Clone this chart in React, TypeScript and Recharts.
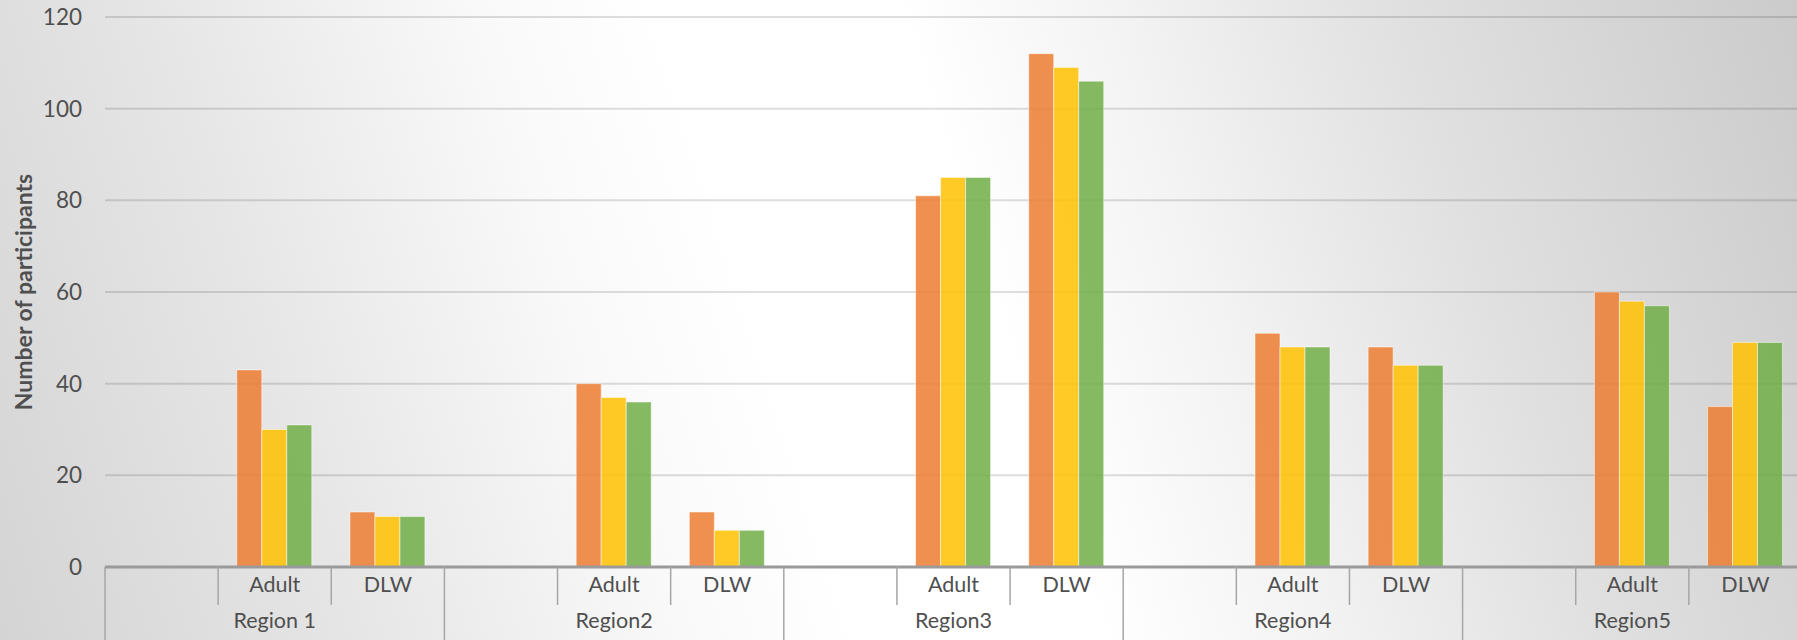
import { BarChart, Bar, XAxis, YAxis, CartesianGrid } from 'recharts'

const regions = ['Region 1', 'Region2', 'Region3', 'Region4', 'Region5']
const groups = ['', 'Adult', 'DLW']

// three series per group (orange, yellow, green)
const orangeAdult = [43, 40, 81, 51, 60]
const orangeDlw = [12, 12, 112, 48, 35]
const yellowAdult = [30, 37, 85, 48, 58]
const yellowDlw = [11, 8, 109, 44, 49]
const greenAdult = [31, 36, 85, 48, 57]
const greenDlw = [11, 8, 106, 44, 49]

const yTicks = [0, 20, 40, 60, 80, 100, 120]

const chartData = regions.flatMap((region, r) =>
  groups.map((group) => ({
    key: `${region}|${group}`,
    region,
    group,
    orange: group === 'Adult' ? orangeAdult[r] : group === 'DLW' ? orangeDlw[r] : null,
    yellow: group === 'Adult' ? yellowAdult[r] : group === 'DLW' ? yellowDlw[r] : null,
    green: group === 'Adult' ? greenAdult[r] : group === 'DLW' ? greenDlw[r] : null,
  }))
)

const CHART_W = 1812
const CHART_H = 640
const PLOT_LEFT = 105
const RIGHT_MARGIN = 10
const BAND = (CHART_W - PLOT_LEFT - RIGHT_MARGIN) / chartData.length
const FONT = 'Lato, "Open Sans", sans-serif'
const TEXT = '#4f4f4f'

function CategoryTick(props: any) {
  const { x, y, index } = props
  const row = chartData[index]
  if (!row) return null
  const left = x - BAND / 2
  const isRegionStart = index % 3 === 0
  return (
    <g>
      <line x1={left} x2={left} y1={y} y2={isRegionStart ? CHART_H : y + 38} stroke="#a6a6a6" strokeWidth={1.5} />
      {index === chartData.length - 1 && (
        <line x1={x + BAND / 2} x2={x + BAND / 2} y1={y} y2={CHART_H} stroke="#a6a6a6" strokeWidth={1.5} />
      )}
      {row.group && (
        <text x={x} y={y + 17} textAnchor="middle" dominantBaseline="central" fontSize={21.5} fill={TEXT} fontFamily={FONT}>
          {row.group}
        </text>
      )}
      {row.group === 'Adult' && (
        <text x={x} y={y + 53} textAnchor="middle" dominantBaseline="central" fontSize={21.5} fill={TEXT} fontFamily={FONT}>
          {row.region}
        </text>
      )}
    </g>
  )
}

export default function App() {
  return (
    <div
      style={{
        position: 'absolute',
        left: 0,
        top: 0,
        width: 1797,
        height: 640,
        overflow: 'hidden',
        fontFamily: FONT,
        background:
          'linear-gradient(72deg, #d4d4d4 0%, #e6e6e6 18%, #f9f9f9 34%, #ffffff 43%, #ffffff 55%, #f3f3f3 66%, #e0e0e0 80%, #cbcbcb 100%)',
      }}
    >
      <BarChart
        width={CHART_W}
        height={CHART_H}
        data={chartData}
        margin={{ top: 17, right: RIGHT_MARGIN, left: 0, bottom: 0 }}
        barCategoryGap="16.5%"
        barGap={0}
      >
        <CartesianGrid vertical={false} stroke="#000" strokeOpacity={0.13} strokeWidth={2} />
        <XAxis
          dataKey="key"
          interval={0}
          height={73}
          tickSize={0}
          tickMargin={0}
          tickLine={false}
          axisLine={{ stroke: '#9a9a9a', strokeWidth: 3 }}
          tick={<CategoryTick />}
        />
        <YAxis
          width={PLOT_LEFT}
          domain={[0, 120]}
          ticks={yTicks}
          axisLine={false}
          tickLine={false}
          tickSize={0}
          tickMargin={23}
          tick={{ fontSize: 22.5, fill: TEXT, fontFamily: FONT }}
          label={{
            content: ({ viewBox }: any) => {
              const cx = viewBox.x + 23
              const cy = viewBox.y + viewBox.height / 2
              return (
                <text
                  x={cx}
                  y={cy}
                  transform={`rotate(-90 ${cx} ${cy})`}
                  textAnchor="middle"
                  dominantBaseline="central"
                  fontSize={23}
                  fontWeight="bold"
                  fill={TEXT}
                  fontFamily={FONT}
                >
                  Number of participants
                </text>
              )
            },
          }}
        />
        <Bar dataKey="orange" fill="#ED7D31" fillOpacity={0.85} stroke="#fff" strokeOpacity={0.5} strokeWidth={1} isAnimationActive={false} />
        <Bar dataKey="yellow" fill="#FFC000" fillOpacity={0.85} stroke="#fff" strokeOpacity={0.5} strokeWidth={1} isAnimationActive={false} />
        <Bar dataKey="green" fill="#70AD47" fillOpacity={0.85} stroke="#fff" strokeOpacity={0.5} strokeWidth={1} isAnimationActive={false} />
      </BarChart>
    </div>
  )
}
